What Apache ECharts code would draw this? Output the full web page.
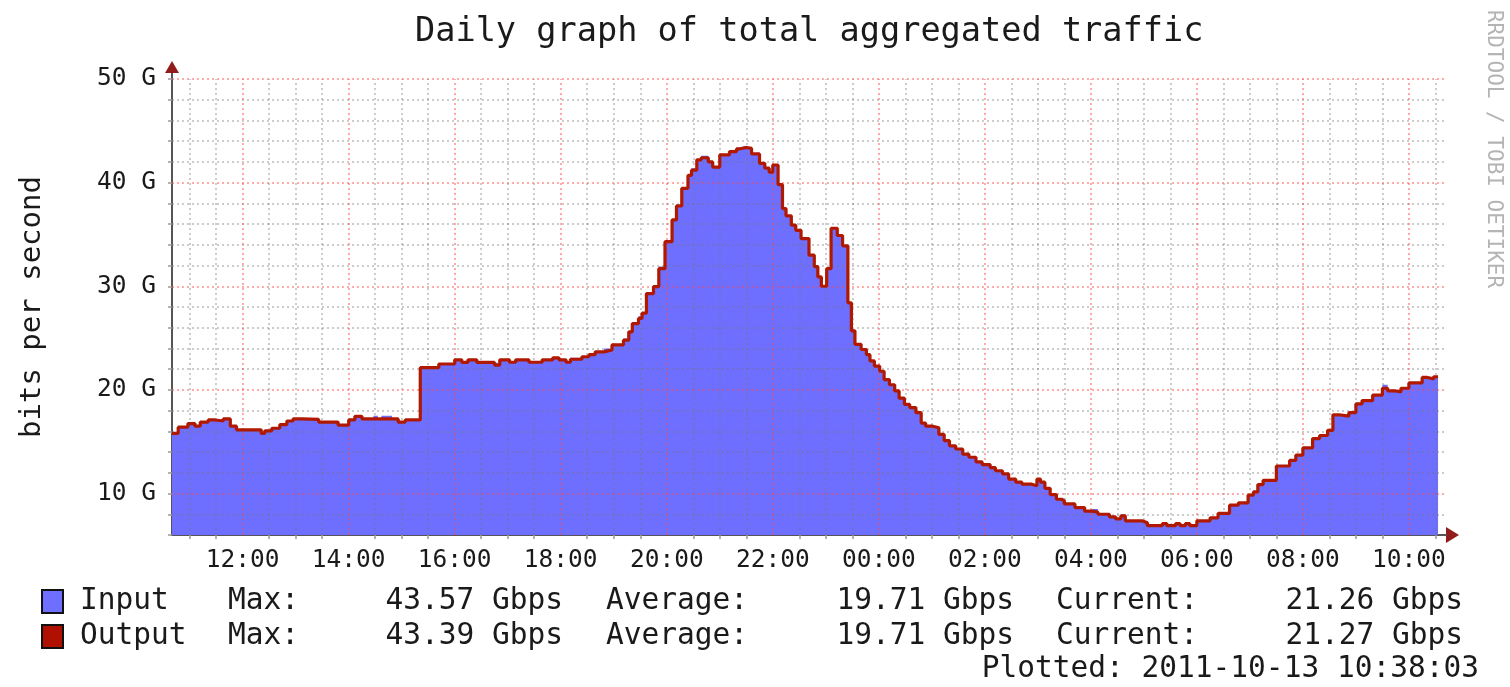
<!DOCTYPE html>
<html>
<head>
<meta charset="utf-8">
<title>Daily graph of total aggregated traffic</title>
<script src="https://cdn.jsdelivr.net/npm/echarts@6.0.0/dist/echarts.min.js"></script>
<style>
  html, body { margin: 0; padding: 0; background: #fff; }
  #chart { width: 1510px; height: 687px; }
</style>
</head>
<body>
<div id="chart"></div>
<script>
// step start times, 2011-10-12 -> 2011-10-13 (rolls over at midnight)
const times = [
  '10:40','10:47','10:58','11:06','11:12','11:21','11:29','11:38','11:46','11:53',
  '12:21','12:25','12:33','12:42','12:50','12:57','13:07','13:26','13:48','14:00',
  '14:07','14:15','14:28','14:33','14:37','14:49','14:56','15:04','15:21','15:42',
  '16:00','16:08','16:15','16:25','16:45','16:51','17:02','17:09','17:24','17:39',
  '17:51','17:58','18:06','18:11','18:24','18:32','18:39','18:49','18:58','19:11',
  '19:17','19:21','19:28','19:32','19:37','19:45','19:51','19:58','20:06','20:11',
  '20:17','20:24','20:28','20:34','20:39','20:47','20:52','21:00','21:11','21:19',
  '21:22','21:30','21:36','21:45','21:51','21:56','22:00','22:06','22:11','22:15',
  '22:21','22:26','22:32','22:41','22:47','22:51','22:55','23:01','23:06','23:13',
  '23:19','23:25','23:29','23:33','23:40','23:46','23:50','23:55','00:01','00:06',
  '00:12','00:18','00:23','00:29','00:35','00:42','00:48','00:53','01:01','01:08',
  '01:14','01:20','01:27','01:35','01:42','01:50','01:57','02:06','02:12','02:20',
  '02:27','02:35','02:42','02:53','02:59','03:03','03:08','03:14','03:21','03:27',
  '03:30','03:42','03:53','04:01','04:08','04:21','04:28','04:34','04:39','04:58',
  '05:04','05:21','05:26','05:36','05:41','05:47','05:52','06:00','06:15','06:24',
  '06:37','06:47','06:58','07:04','07:09','07:15','07:30','07:45','07:52','08:00',
  '08:11','08:19','08:28','08:34','08:41','08:52','09:00','09:07','09:19','09:30',
  '09:36','09:45','09:51','10:00','10:15','10:21','10:28','10:33'
];

// Gbit/s
const outVals = [
  15.8, 16.4, 16.75, 16.5, 16.9, 17.1, 17.0, 17.2, 16.5, 16.15,
  15.8, 16.05, 16.3, 16.65, 17.0, 17.2, 17.15, 16.9, 16.6, 17.1,
  17.45, 17.2, 17.2, 17.2, 17.2, 17.2, 16.9, 17.1, 22.15, 22.5,
  22.9, 22.65, 22.9, 22.65, 22.4, 22.9, 22.67, 22.9, 22.67, 22.9,
  23.1, 22.9, 22.67, 22.96, 23.2, 23.4, 23.67, 23.86, 24.34, 24.8,
  25.6, 26.4, 26.9, 27.4, 29.3, 29.97, 31.7, 34.3, 36.4, 37.75,
  39.45, 40.7, 41.2, 42.2, 42.4, 42.0, 41.5, 42.67, 43.0, 43.25,
  43.39, 43.3, 42.77, 41.86, 41.4, 41.0, 41.7, 39.8, 37.5, 36.8,
  35.9, 35.4, 34.6, 33.0, 31.9, 30.9, 30.0, 31.7, 35.6, 34.9,
  33.9, 28.4, 25.7, 24.4, 23.9, 23.4, 22.8, 22.3, 21.8, 21.0,
  20.5, 19.9, 19.2, 18.6, 18.3, 17.8, 16.8, 16.5, 16.35, 15.7,
  15.1, 14.6, 14.3, 13.8, 13.5, 13.05, 12.8, 12.5, 12.2, 11.9,
  11.4, 11.1, 10.9, 10.75, 11.4, 11.1, 10.5, 9.9, 9.45, 9.3,
  9.0, 8.65, 8.3, 8.2, 8.0, 7.75, 7.55, 7.85, 7.37, 7.18,
  6.9, 7.1, 6.9, 7.1, 6.9, 7.1, 6.9, 7.37, 7.66, 8.08,
  8.88, 9.1, 9.84, 10.16, 10.87, 11.28, 12.66, 13.2, 13.7, 14.4,
  15.3, 15.6, 16.1, 17.6, 17.47, 17.8, 18.65, 18.97, 19.5, 20.16,
  19.9, 19.8, 20.16, 20.67, 21.2, 21.06, 21.27, 21.27
];

const inVals = [
  15.8, 16.4, 16.75, 16.5, 17.0, 17.1, 17.0, 17.2, 16.6, 16.15,
  15.8, 16.05, 16.3, 16.65, 17.0, 17.2, 17.3, 16.9, 16.6, 17.1,
  17.45, 17.2, 17.5, 17.2, 17.5, 17.2, 16.9, 17.2, 22.15, 22.6,
  22.9, 22.65, 22.9, 22.65, 22.6, 22.9, 22.67, 22.9, 22.67, 22.9,
  23.1, 22.9, 22.67, 23.1, 23.2, 23.4, 23.67, 24.0, 24.34, 24.95,
  25.6, 26.4, 27.1, 27.4, 29.3, 29.97, 31.9, 34.3, 36.4, 37.75,
  39.45, 40.7, 41.4, 42.2, 42.6, 42.0, 41.5, 42.67, 43.0, 43.4,
  43.57, 43.3, 42.77, 41.86, 41.4, 41.0, 41.7, 39.8, 37.5, 36.8,
  35.9, 35.4, 34.6, 33.0, 32.0, 30.9, 30.0, 31.7, 35.6, 34.9,
  33.9, 28.4, 25.7, 24.4, 24.0, 23.4, 22.8, 22.3, 21.8, 21.0,
  20.5, 19.9, 19.3, 18.6, 18.3, 17.8, 16.8, 16.5, 16.35, 15.7,
  15.1, 14.6, 14.3, 13.8, 13.5, 13.05, 12.8, 12.5, 12.2, 11.9,
  11.4, 11.2, 10.9, 10.75, 11.4, 11.1, 10.5, 9.9, 9.45, 9.3,
  9.0, 8.65, 8.3, 8.5, 8.0, 7.75, 7.55, 8.0, 7.37, 7.18,
  6.9, 7.1, 6.9, 7.1, 6.9, 7.1, 6.9, 7.37, 7.66, 8.08,
  8.88, 9.1, 9.84, 10.16, 10.87, 11.28, 12.66, 13.2, 13.7, 14.4,
  15.3, 15.6, 16.1, 17.6, 17.47, 17.8, 18.65, 18.97, 19.5, 20.5,
  19.9, 19.8, 20.16, 20.67, 21.2, 21.06, 21.26, 21.26
];

// axis ticks
const yMajor = [10, 20, 30, 40, 50];
const yMinor = [8, 12, 14, 16, 18, 22, 24, 26, 28, 32, 34, 36, 38, 42, 44, 46, 48];
const xMajor = ['12:00','14:00','16:00','18:00','20:00','22:00','00:00','02:00','04:00','06:00','08:00','10:00'];
const xMinor = [
  '11:00','11:30','12:30','13:00','13:30','14:30','15:00','15:30','16:30','17:00','17:30',
  '18:30','19:00','19:30','20:30','21:00','21:30','22:30','23:00','23:30','00:30','01:00',
  '01:30','02:30','03:00','03:30','04:30','05:00','05:30','06:30','07:00','07:30','08:30',
  '09:00','09:30','10:30'
];

// legend figures
const statNames = ['Input', 'Output'];
const statMax = ['43.57', '43.39'];
const statAvg = ['19.71', '19.71'];
const statCur = ['21.26', '21.27'];
const plotted = '2011-10-13 10:38:03';

// "HH:MM" list -> timestamps, day bumps when the clock wraps
function toTs(list) {
  let day = 12, prev = -1;
  return list.map(s => {
    const [h, m] = s.split(':').map(Number);
    const mins = h * 60 + m;
    if (mins < prev) day++;
    prev = mins;
    return new Date(2011, 9, day, h, m).getTime();
  });
}

const ts = toTs(times);
const xMin = new Date(2011, 9, 12, 10, 40).getTime();
const xMax = new Date(2011, 9, 13, 10, 42).getTime();
const pad = n => (n < 10 ? '0' : '') + n;

const FONT = 'DejaVu Sans Mono';
const BLUE = '#6e6eff';
const RED = '#b01800';
const ARROW = '#921c1c';
const minorStyle = { color: 'rgba(120,120,120,0.5)', type: [2, 3], width: 1.5 };
const majorStyle = { color: 'rgba(255,70,70,0.6)', type: [2, 3], width: 1.5 };

const gridLines = []
  .concat(toTs(xMinor).map(v => ({ xAxis: v, lineStyle: minorStyle })))
  .concat(yMinor.map(v => ({ yAxis: v, lineStyle: minorStyle })))
  .concat(toTs(xMajor).map(v => ({ xAxis: v, lineStyle: majorStyle })))
  .concat(yMajor.map(v => ({ yAxis: v, lineStyle: majorStyle })));

const legendText = (x, y, text, align) => ({
  type: 'text', x, y,
  style: { text, fill: '#1a1a1a', font: '29.5px "' + FONT + '"', align: align || 'left', verticalAlign: 'middle' }
});

const graphic = [
  // axis arrows
  { type: 'polygon', shape: { points: [[165, 73], [179, 73], [172, 61]] }, style: { fill: ARROW } },
  { type: 'line', shape: { x1: 172, y1: 79, x2: 172, y2: 73 }, style: { stroke: '#555', lineWidth: 2 } },
  { type: 'polygon', shape: { points: [[1446, 527], [1446, 543], [1459, 535]] }, style: { fill: ARROW } },
  // watermark
  {
    type: 'text', x: 1493, y: 149, rotation: -Math.PI / 2,
    style: { text: 'RRDTOOL / TOBI OETIKER', fill: '#b4b4b4', font: '21px "' + FONT + '"', align: 'center', verticalAlign: 'middle' }
  },
  // legend swatches
  { type: 'rect', shape: { x: 42, y: 590, width: 21, height: 23 }, style: { fill: BLUE, stroke: '#111', lineWidth: 2 } },
  { type: 'rect', shape: { x: 42, y: 625, width: 21, height: 23 }, style: { fill: '#b01000', stroke: '#111', lineWidth: 2 } }
];
[601, 636].forEach((y, i) => {
  graphic.push(
    legendText(80, y, statNames[i]),
    legendText(228, y, 'Max:'),
    legendText(563, y, statMax[i] + ' Gbps', 'right'),
    legendText(606, y, 'Average:'),
    legendText(1014, y, statAvg[i] + ' Gbps', 'right'),
    legendText(1056, y, 'Current:'),
    legendText(1463, y, statCur[i] + ' Gbps', 'right')
  );
});
graphic.push(legendText(1479, 669, 'Plotted: ' + plotted, 'right'));

const chart = echarts.init(document.getElementById('chart'), null, { renderer: 'canvas' });
chart.setOption({
  backgroundColor: '#ffffff',
  animation: false,
  textStyle: { fontFamily: FONT },
  title: {
    text: 'Daily graph of total aggregated traffic',
    left: 410,
    top: 10,
    textStyle: { fontFamily: FONT, fontSize: 33.6, fontWeight: 'normal', color: '#1a1a1a' }
  },
  grid: { left: 172, top: 79, width: 1274, height: 456, containLabel: false },
  xAxis: {
    type: 'value',
    min: xMin,
    max: xMax,
    axisLine: { lineStyle: { color: '#555', width: 2 } },
    axisTick: { customValues: toTs(xMinor.concat(xMajor)), length: 4, lineStyle: { color: '#999', width: 1.5 } },
    axisLabel: {
      customValues: toTs(xMajor),
      margin: 13,
      fontFamily: FONT,
      fontSize: 24.5,
      color: '#1a1a1a',
      formatter: v => { const d = new Date(v); return pad(d.getHours()) + ':' + pad(d.getMinutes()); }
    },
    splitLine: { show: false }
  },
  yAxis: {
    type: 'value',
    min: 6,
    max: 50,
    interval: 2,
    name: 'bits per second',
    nameLocation: 'middle',
    nameGap: 125,
    nameTextStyle: { fontFamily: FONT, fontSize: 29, color: '#1a1a1a' },
    axisLine: { show: true, lineStyle: { color: '#555', width: 2 } },
    axisTick: { show: true, length: 4, lineStyle: { color: '#999', width: 1.5 } },
    axisLabel: {
      customValues: yMajor,
      margin: 16,
      fontFamily: FONT,
      fontSize: 24.5,
      color: '#1a1a1a',
      formatter: v => v + ' G'
    },
    splitLine: { show: false }
  },
  series: [
    {
      name: 'Input',
      type: 'line',
      step: 'end',
      showSymbol: false,
      symbol: 'none',
      z: 2,
      lineStyle: { width: 0, color: BLUE },
      areaStyle: { color: BLUE, opacity: 1 },
      data: ts.map((t, i) => [t, inVals[i]]),
      markLine: {
        silent: true,
        symbol: 'none',
        label: { show: false },
        animation: false,
        data: gridLines
      }
    },
    {
      name: 'Output',
      type: 'line',
      step: 'end',
      showSymbol: false,
      symbol: 'none',
      z: 10,
      lineStyle: { width: 3.2, color: RED },
      data: ts.map((t, i) => [t, outVals[i]])
    }
  ],
  graphic
});
</script>
</body>
</html>
